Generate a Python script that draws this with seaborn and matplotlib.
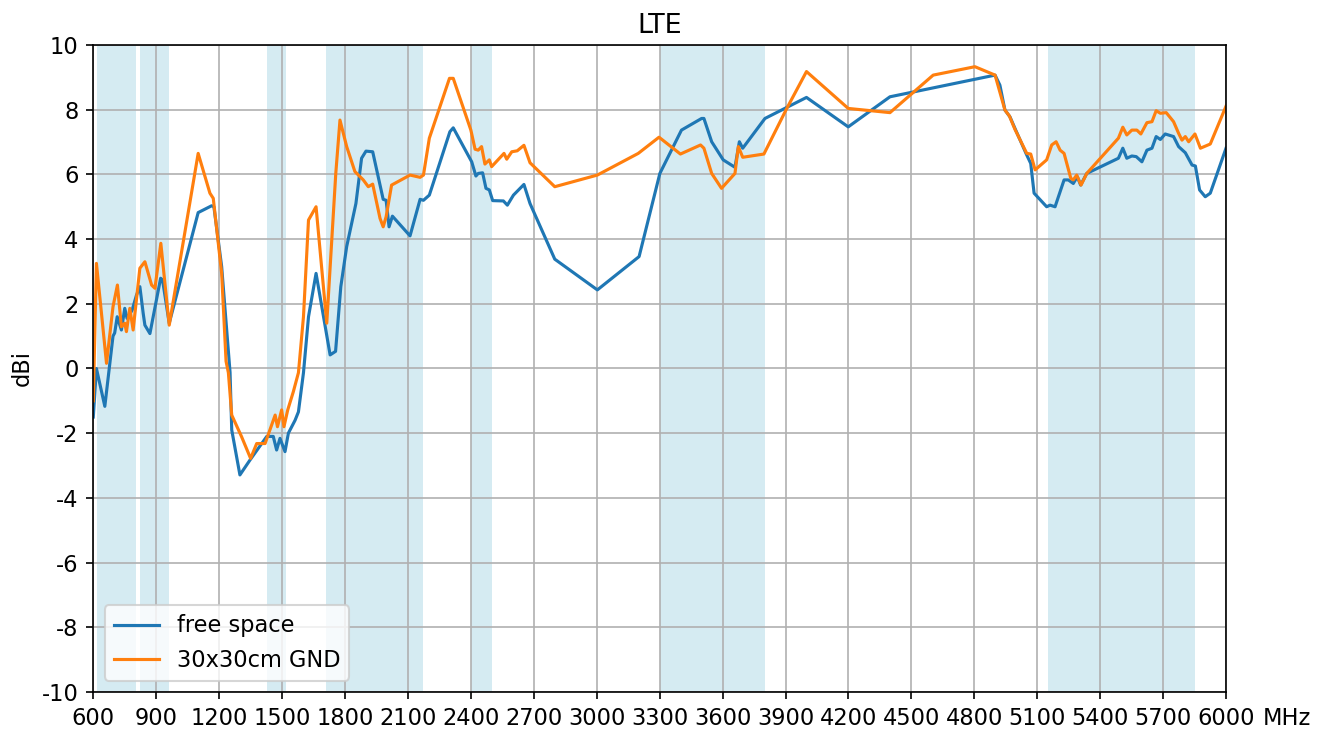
import numpy as np
import pandas as pd
import matplotlib
matplotlib.use('Agg')
import matplotlib.pyplot as plt
import seaborn as sns

plt.rcParams['axes.unicode_minus'] = False
plt.rcParams['font.size'] = 10.8

# free space
freq_fs = [600, 615, 655, 694, 702, 714, 734, 750, 761, 785, 806, 822, 838, 846, 870,
           921, 930, 962, 1100, 1164, 1175, 1212, 1252, 1260, 1299, 1347, 1427, 1458,
           1474, 1490, 1514, 1530, 1562, 1578, 1602, 1626, 1662, 1729, 1755, 1780, 1808,
           1852, 1879, 1900, 1932, 1982, 1996, 2010, 2026, 2110, 2158, 2174, 2202, 2300,
           2316, 2404, 2424, 2435, 2456, 2472, 2488, 2504, 2555, 2574, 2603, 2653, 2682,
           2800, 3003, 3202, 3301, 3404, 3500, 3511, 3548, 3603, 3659, 3680, 3696, 3802,
           4000, 4199, 4398, 4899, 4922, 4946, 4970, 4994, 5050, 5069, 5085, 5145, 5161,
           5185, 5228, 5248, 5272, 5291, 5307, 5336, 5487, 5508, 5527, 5551, 5572, 5599,
           5623, 5647, 5667, 5687, 5710, 5750, 5774, 5806, 5838, 5854, 5874, 5901, 5925,
           6000]
gain_fs = [-1.5, 0.0, -1.17, 1.0, 1.1, 1.6, 1.19, 1.86, 1.55, 1.8, 2.27, 2.53, 1.7, 1.34,
           1.08, 2.79, 2.74, 1.4, 4.82, 5.03, 5.0, 3.15, -0.12, -1.9, -3.29, -2.83, -2.1,
           -2.1, -2.52, -2.16, -2.57, -2.0, -1.6, -1.34, -0.13, 1.6, 2.94, 0.42, 0.53, 2.53,
           3.77, 5.1, 6.5, 6.72, 6.7, 5.23, 5.2, 4.38, 4.71, 4.1, 5.23, 5.2, 5.36, 7.32,
           7.44, 6.39, 5.95, 6.03, 6.05, 5.57, 5.52, 5.19, 5.18, 5.05, 5.36, 5.69, 5.1,
           3.38, 2.43, 3.46, 6.03, 7.37, 7.73, 7.73, 7.01, 6.45, 6.22, 7.01, 6.81, 7.73,
           8.38, 7.47, 8.4, 9.07, 8.76, 7.99, 7.78, 7.42, 6.6, 6.34, 5.42, 5.0, 5.05,
           5.0, 5.83, 5.83, 5.72, 5.93, 5.67, 6.03, 6.5, 6.81, 6.5, 6.57, 6.55, 6.39,
           6.75, 6.81, 7.17, 7.08, 7.25, 7.17, 6.86, 6.67, 6.29, 6.26, 5.52, 5.31, 5.42,
           6.81]

# 30x30cm ground plane
freq_gnd = [600, 615, 663, 694, 715, 734, 750, 758, 774, 790, 822, 846, 878, 894, 922,
            962, 1100, 1156, 1172, 1212, 1233, 1244, 1260, 1307, 1350, 1379, 1419, 1467,
            1478, 1498, 1509, 1527, 1554, 1578, 1602, 1626, 1662, 1713, 1756, 1776, 1808,
            1847, 1887, 1911, 1932, 1967, 1982, 1996, 2022, 2110, 2158, 2174, 2202, 2298,
            2316, 2400, 2420, 2435, 2451, 2467, 2488, 2499, 2558, 2571, 2595, 2621, 2653,
            2682, 2800, 3003, 3198, 3297, 3399, 3495, 3511, 3548, 3595, 3659, 3675, 3696,
            3797, 3906, 4000, 4199, 4398, 4604, 4803, 4899, 4946, 4967, 4994, 5050, 5069,
            5090, 5145, 5169, 5190, 5209, 5228, 5260, 5272, 5288, 5309, 5336, 5487, 5508,
            5527, 5551, 5575, 5594, 5623, 5647, 5667, 5687, 5715, 5750, 5774, 5790, 5806,
            5822, 5852, 5878, 5925, 6000]
gain_gnd = [-1.0, 3.25, 0.16, 1.91, 2.58, 1.29, 1.4, 1.14, 1.86, 1.19, 3.1, 3.3, 2.58,
            2.48, 3.87, 1.34, 6.65, 5.42, 5.26, 2.94, 0.22, -0.13, -1.44, -2.11, -2.78,
            -2.32, -2.32, -1.44, -1.8, -1.28, -1.8, -1.28, -0.71, -0.13, 1.6, 4.59, 5.0,
            1.4, 6.03, 7.68, 6.86, 6.09, 5.83, 5.62, 5.7, 4.64, 4.38, 4.69, 5.67, 5.98,
            5.91, 5.98, 7.12, 8.97, 8.97, 7.37, 6.78, 6.75, 6.86, 6.32, 6.45, 6.24, 6.65,
            6.47, 6.7, 6.73, 6.9, 6.36, 5.62, 5.98, 6.65, 7.15, 6.63, 6.91, 6.81, 6.03,
            5.57, 6.03, 6.86, 6.53, 6.63, 8.04, 9.18, 8.04, 7.91, 9.07, 9.33, 9.07, 7.99,
            7.81, 7.39, 6.65, 6.63, 6.14, 6.45, 6.91, 7.01, 6.75, 6.65, 5.88, 5.83, 5.98,
            5.67, 6.03, 7.12, 7.46, 7.22, 7.37, 7.37, 7.25, 7.6, 7.63, 7.97, 7.89, 7.91,
            7.63, 7.27, 7.06, 7.17, 7.01, 7.25, 6.81, 6.94, 8.11]

# LTE bands (MHz)
band_lo = [617, 824, 1427, 1710, 2400, 3300, 5150]
band_hi = [806, 960, 1518, 2170, 2500, 3800, 5850]

fig, ax = plt.subplots(figsize=(1327 / 150, 731 / 150), dpi=150)
fig.subplots_adjust(left=0.0703, right=0.9239, bottom=0.0534, top=0.9384)

for lo, hi in zip(band_lo, band_hi):
    ax.axvspan(lo, hi, color='lightblue', alpha=0.5, lw=0)

sns.lineplot(x=freq_fs, y=gain_fs, ax=ax, color='tab:blue', label='free space')
sns.lineplot(x=freq_gnd, y=gain_gnd, ax=ax, color='tab:orange', label='30x30cm GND')

ax.set_xlim(600, 6000)
ax.set_ylim(-10, 10)
ax.set_xticks(np.arange(600, 6001, 300))
ax.set_yticks(np.arange(-10, 11, 2))
ax.grid(True)
ax.set_title('LTE')
ax.set_ylabel('dBi')
ax.set_xlabel('')
ax.annotate('MHz', xy=(1, 0), xycoords='axes fraction', xytext=(17.5, -7),
            textcoords='offset points', ha='left', va='top')
ax.legend(loc='lower left')

plt.savefig('out.png', dpi=150)
